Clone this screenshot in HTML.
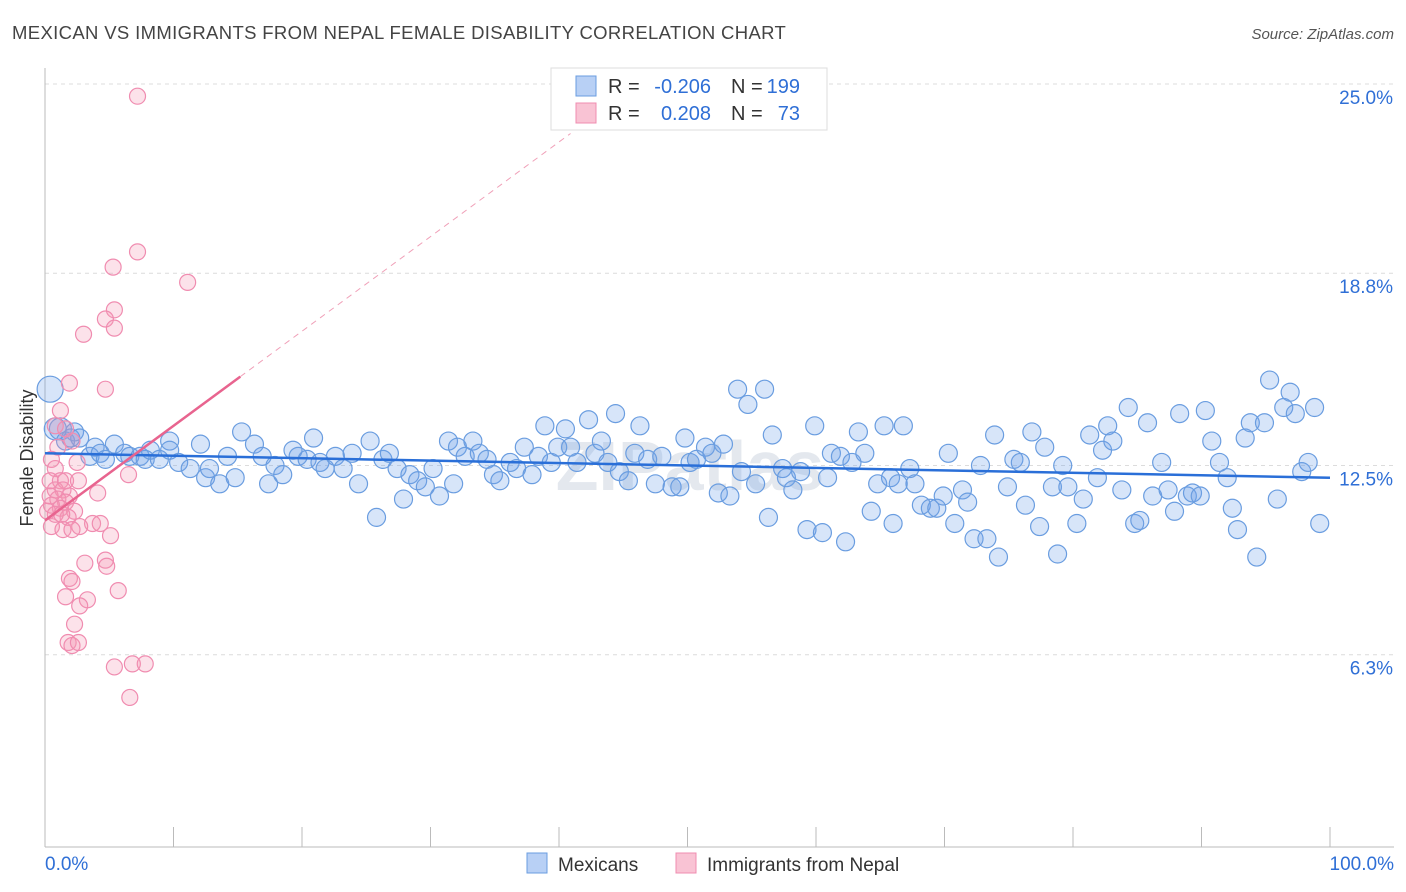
<!DOCTYPE html>
<html><head><meta charset="utf-8"><style>
body{margin:0;background:#fff;font-family:"Liberation Sans",sans-serif}
svg{display:block}
</style></head><body>
<svg id="chart" width="1406" height="892">
<text x="12" y="39" font-size="18.5" letter-spacing="0.35" fill="#444">MEXICAN VS IMMIGRANTS FROM NEPAL FEMALE DISABILITY CORRELATION CHART</text>
<text x="1394" y="39" font-size="15" fill="#555" font-style="italic" text-anchor="end">Source: ZipAtlas.com</text>
<text x="690" y="490" font-size="70" fill="#e4e8ee" text-anchor="middle" font-weight="bold">ZIPatlas</text>
<text transform="translate(33,458) rotate(-90)" font-size="18" fill="#333" text-anchor="middle">Female Disability</text>
<g id="grid"></g><g id="axes"></g><g id="pts"></g><g id="trends"></g>
<g>
<rect x="551" y="68" width="276" height="62" fill="#fff" stroke="#ddd"/>
<rect x="576" y="76" width="20" height="20" fill="#b8d0f5" stroke="#6a9de0"/>
<rect x="576" y="103" width="20" height="20" fill="#f9c3d4" stroke="#f08cb0"/>
<text x="608" y="93" font-size="20" fill="#333">R =</text>
<text x="711" y="93" font-size="20" fill="#2f6fd6" text-anchor="end">-0.206</text>
<text x="731" y="93" font-size="20" fill="#333">N =</text>
<text x="800" y="93" font-size="20" fill="#2f6fd6" text-anchor="end">199</text>
<text x="608" y="120" font-size="20" fill="#333">R =</text>
<text x="711" y="120" font-size="20" fill="#2f6fd6" text-anchor="end">0.208</text>
<text x="731" y="120" font-size="20" fill="#333">N =</text>
<text x="800" y="120" font-size="20" fill="#2f6fd6" text-anchor="end">73</text>
</g>
<g>
<rect x="527" y="853" width="20" height="20" fill="#b8d0f5" stroke="#6a9de0"/>
<text x="558" y="871" font-size="19" fill="#333">Mexicans</text>
<rect x="676" y="853" width="20" height="20" fill="#f9c3d4" stroke="#f08cb0"/>
<text x="707" y="871" font-size="19" fill="#333">Immigrants from Nepal</text>
</g>
<text x="45" y="870" font-size="19" fill="#2f6fd6">0.0%</text>
<text x="1394" y="870" font-size="19" fill="#2f6fd6" text-anchor="end">100.0%</text>
</svg>
<script>
const yTicks=[25,18.8,12.5,6.3];
const yTickLabels=["25.0%","18.8%","12.5%","6.3%"];
const xTicks=[0,10,20,30,40,50,60,70,80,90,100];
const blueX=[0.4,0.8,1.2,1.6,2.0,2.3,2.7,3.5,3.9,4.3,4.7,5.4,6.2,6.6,7.4,7.8,8.2,8.9,9.7,9.7,10.4,11.3,12.1,12.5,12.8,13.6,14.2,14.8,15.3,16.3,16.9,17.4,17.9,18.5,19.3,19.7,20.4,20.9,21.4,21.8,22.6,23.2,23.9,24.4,25.3,25.8,26.3,26.8,27.4,27.9,28.4,29.0,29.6,30.2,30.7,31.4,31.8,32.1,32.7,33.3,33.8,34.4,34.9,35.4,36.2,36.7,37.3,37.9,38.4,38.9,39.4,39.9,40.5,40.9,41.4,42.3,42.8,43.3,43.8,44.4,44.7,45.4,45.9,46.3,46.9,47.5,48.0,48.8,49.4,49.8,50.2,50.7,51.4,51.9,52.4,52.8,53.3,53.9,54.2,54.7,55.3,56.0,56.3,56.6,57.4,57.7,58.2,58.8,59.3,59.9,60.5,60.9,61.2,61.9,62.3,62.8,63.3,63.8,64.3,64.8,65.3,65.8,66.0,66.4,66.8,67.3,67.7,68.2,68.9,69.4,69.9,70.3,70.8,71.4,71.8,72.3,72.8,73.3,73.9,74.2,74.9,75.4,75.9,76.3,76.8,77.4,77.8,78.4,78.8,79.2,79.6,80.3,80.8,81.3,81.9,82.3,82.7,83.1,83.8,84.3,84.8,85.2,85.8,86.2,86.9,87.4,87.9,88.3,88.9,89.3,89.9,90.3,90.8,91.4,92.0,92.4,92.8,93.4,93.8,94.3,94.9,95.3,95.9,96.4,96.9,97.3,97.8,98.3,98.8,99.2];
const blueY=[15.0,13.7,13.7,13.3,13.4,13.6,13.4,12.8,13.1,12.9,12.7,13.2,12.9,12.8,12.8,12.7,13.0,12.7,13.3,13.0,12.6,12.4,13.2,12.1,12.4,11.9,12.8,12.1,13.6,13.2,12.8,11.9,12.5,12.2,13.0,12.8,12.7,13.4,12.6,12.4,12.8,12.4,12.9,11.9,13.3,10.8,12.7,12.9,12.4,11.4,12.2,12.0,11.8,12.4,11.5,13.3,11.9,13.1,12.8,13.3,12.9,12.7,12.2,12.0,12.6,12.4,13.1,12.2,12.8,13.8,12.6,13.1,13.7,13.1,12.6,14.0,12.9,13.3,12.6,14.2,12.3,12.0,12.9,13.8,12.7,11.9,12.8,11.8,11.8,13.4,12.6,12.7,13.1,12.9,11.6,13.2,11.5,15.0,12.3,14.5,11.9,15.0,10.8,13.5,12.4,12.1,11.7,12.3,10.4,13.8,10.3,12.1,12.9,12.8,10.0,12.6,13.6,12.9,11.0,11.9,13.8,12.1,10.6,11.9,13.8,12.4,11.9,11.2,11.1,11.1,11.5,12.9,10.6,11.7,11.3,10.1,12.5,10.1,13.5,9.5,11.8,12.7,12.6,11.2,13.6,10.5,13.1,11.8,9.6,12.5,11.8,10.6,11.4,13.5,12.1,13.0,13.8,13.3,11.7,14.4,10.6,10.7,13.9,11.5,12.6,11.7,11.0,14.2,11.5,11.6,11.5,14.3,13.3,12.6,12.1,11.1,10.4,13.4,13.9,9.5,13.9,15.3,11.4,14.4,14.9,14.2,12.3,12.6,14.4,10.6];
const pinkX=[7.2,7.2,5.3,11.1,5.4,4.7,5.4,3.0,1.9,4.7,1.2,0.8,1.6,2.1,1.0,0.5,2.5,0.8,6.5,1.2,0.4,1.6,2.6,0.8,1.4,1.9,4.1,0.4,1.0,1.6,0.5,1.2,2.3,0.2,1.8,3.7,4.3,2.7,0.5,1.4,2.1,5.1,3.1,4.7,4.8,1.9,2.1,5.7,3.3,1.6,2.7,2.3,1.8,2.1,2.6,5.4,6.8,7.8,6.6,0.8,1.3];
const pinkY=[24.6,19.5,19.0,18.5,17.6,17.3,17.0,16.8,15.2,15.0,14.3,13.8,13.7,13.3,13.1,12.7,12.6,12.4,12.2,12.0,12.0,12.0,12.0,11.7,11.7,11.5,11.6,11.5,11.4,11.3,11.2,11.1,11.0,11.0,10.8,10.6,10.6,10.5,10.5,10.4,10.4,10.2,9.3,9.4,9.2,8.8,8.7,8.4,8.1,8.2,7.9,7.3,6.7,6.6,6.7,5.9,6.0,6.0,4.9,10.9,10.9];
const blueTrend=[12.9,12.1];
const pinkTrend=[10.7,0.31];
const X0=45,X1=1330,YT=847;
const xs=v=>X0+(X1-X0)*v/100;
const ys=v=>YT-v*30.52;
const NS="http://www.w3.org/2000/svg";
function mk(t,a,p){const e=document.createElementNS(NS,t);for(const k in a)e.setAttribute(k,a[k]);p.appendChild(e);return e;}
const grid=document.getElementById('grid'),axes=document.getElementById('axes'),pts=document.getElementById('pts'),tr=document.getElementById('trends');
yTicks.forEach((v,i)=>{
 const l=mk('line',{x1:X0,x2:1394,y1:ys(v),y2:ys(v),stroke:'#dcdcdc','stroke-dasharray':'4,4'},grid);
 
 
 const t=mk('text',{x:1393,y:ys(v)+20,'font-size':19,fill:'#2f6fd6','text-anchor':'end'},grid);
 t.textContent=yTickLabels[i];
 
 
});
const ya=mk('line',{x1:X0,x2:X0,y1:68,y2:YT,stroke:'#bbb'},axes);


const xa=mk('line',{x1:X0,x2:1394,y1:YT,y2:YT,stroke:'#bbb'},axes);


xTicks.forEach(v=>{
 const t=mk('line',{x1:xs(v),x2:xs(v),y1:YT,y2:YT-20,stroke:'#bbb'},axes);
 
 
});
blueX.forEach((x,i)=>{
 const r=i===0?13:(i<3?11:9);
 const c=mk('circle',{cx:xs(x),cy:ys(blueY[i]),r:r,fill:'rgba(110,160,235,0.28)',stroke:'#6a9de0','stroke-width':1.2},pts);
 
 
});
pinkX.forEach((x,i)=>{
 const c=mk('circle',{cx:xs(x),cy:ys(pinkY[i]),r:8,fill:'rgba(245,150,180,0.28)',stroke:'#f08cb0','stroke-width':1.2},pts);
 
 
});
const bl=mk('line',{x1:xs(0),y1:ys(blueTrend[0]),x2:xs(100),y2:ys(blueTrend[1]),stroke:'#2a6fd8','stroke-width':2.5},tr);


const pe=15.2,pd=40.9;
const pl=mk('line',{x1:xs(0),y1:ys(pinkTrend[0]),x2:xs(pe),y2:ys(pinkTrend[0]+pinkTrend[1]*pe),stroke:'#e8648f','stroke-width':2.5},tr);


const pdl=mk('line',{x1:xs(pe),y1:ys(pinkTrend[0]+pinkTrend[1]*pe),x2:xs(pd),y2:ys(pinkTrend[0]+pinkTrend[1]*pd),stroke:'#f0a0b8','stroke-width':1,'stroke-dasharray':'6,5'},tr);


</script>
</body></html>
